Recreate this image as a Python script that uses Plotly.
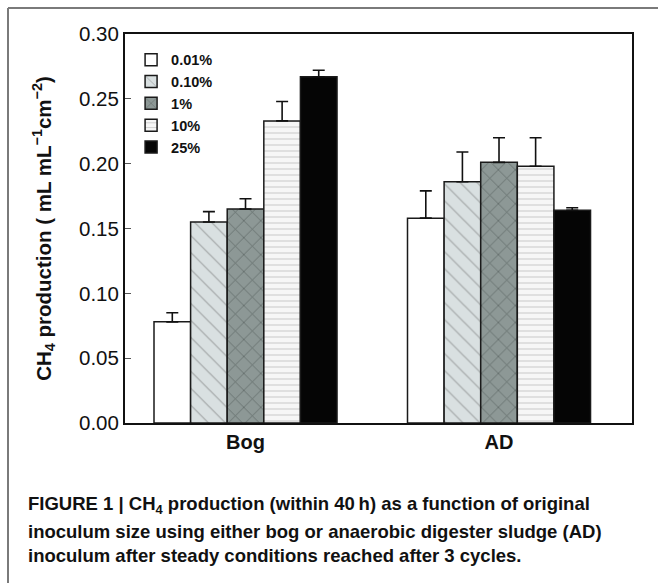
import plotly.graph_objects as go

categories = ["Bog", "AD"]
series_names = ["0.01%", "0.10%", "1%", "10%", "25%"]
values = {
    "0.01%": [0.078, 0.158],
    "0.10%": [0.155, 0.186],
    "1%": [0.165, 0.201],
    "10%": [0.233, 0.198],
    "25%": [0.267, 0.164],
}
errors = {
    "0.01%": [0.007, 0.021],
    "0.10%": [0.008, 0.023],
    "1%": [0.008, 0.019],
    "10%": [0.015, 0.022],
    "25%": [0.005, 0.002],
}
y_ticks = [0.00, 0.05, 0.10, 0.15, 0.20, 0.25, 0.30]
caption_lines = [
    "FIGURE 1 | CH<sub>4</sub> production (within 40\u2009h) as a function of original",
    "inoculum size using either bog or anaerobic digester sludge (AD)",
    "inoculum after steady conditions reached after 3 cycles.",
]

styles = {
    "0.01%": dict(color="#ffffff", pattern=dict(shape="")),
    "0.10%": dict(color="#d9e0e1", pattern=dict(shape="\\", fgcolor="#6a6a6a", size=12, solidity=0.1, fillmode="overlay")),
    "1%": dict(color="#8d9896", pattern=dict(shape="x", fgcolor="#2f3836", size=12, solidity=0.12, fillmode="overlay")),
    "10%": dict(color="#f6f6f6", pattern=dict(shape="-", fgcolor="#a8a8a8", size=6, solidity=0.2, fillmode="overlay")),
    "25%": dict(color="#050505", pattern=dict(shape="")),
}

FONT = "Liberation Sans, Arial, sans-serif"

fig = go.Figure()
for name in series_names:
    st = styles[name]
    fig.add_trace(go.Bar(
        name=name,
        x=[0, 1],
        y=values[name],
        marker=dict(color=st["color"], pattern=st["pattern"],
                    line=dict(color="#1a1a1a", width=1.5)),
        error_y=dict(type="data", array=errors[name], arrayminus=[0, 0],
                     symmetric=False, color="#111111", thickness=1.6, width=6),
    ))

fig.update_layout(
    width=658, height=583,
    margin=dict(l=125, r=26, t=34, b=160),
    paper_bgcolor="white", plot_bgcolor="white",
    barmode="group", bargap=0.278, bargroupgap=0,
    font=dict(family=FONT, color="#111111"),
    showlegend=True,
    legend=dict(x=0.012, y=0.975, xanchor="left", yanchor="top",
                bgcolor="rgba(0,0,0,0)", tracegroupgap=0,
                font=dict(size=14.5, weight="bold", family=FONT)),
    xaxis=dict(
        tickmode="array", tickvals=[0, 1], ticktext=categories,
        range=[-0.4754, 1.5246],
        showline=True, linecolor="#111111", linewidth=2, mirror=True,
        ticks="", showgrid=False, zeroline=False,
        tickfont=dict(size=20, weight="bold", family=FONT),
    ),
    yaxis=dict(
        range=[0, 0.30], tickmode="array", tickvals=y_ticks,
        ticktext=[f"{v:.2f}" for v in y_ticks],
        showline=True, linecolor="#111111", linewidth=2, mirror=True,
        ticks="inside", ticklen=6, tickcolor="#555555", tickwidth=1,
        showgrid=False, zeroline=False,
        tickfont=dict(size=20.5, family=FONT),
        title=dict(text="CH<sub>4</sub> production ( mL mL<sup>\u22121</sup>cm<sup>\u22122</sup>)",
                   font=dict(size=20.5, weight="bold", family=FONT), standoff=22),
    ),
)

# outer figure frame
fig.add_shape(type="line", xref="paper", yref="paper",
              x0=(8 - 125) / 507, x1=(8 - 125) / 507,
              y0=1 + (34 - 8) / 389, y1=(423 - 600) / 389,
              line=dict(color="#7a7a7a", width=2))
fig.add_shape(type="line", xref="paper", yref="paper",
              x0=(8 - 125) / 507, x1=(670 - 125) / 507,
              y0=1 + (34 - 8) / 389, y1=1 + (34 - 8) / 389,
              line=dict(color="#7a7a7a", width=2))

baselines = [519, 544, 568]
for line, yb in zip(caption_lines, baselines):
    fig.add_annotation(text=line, xref="paper", yref="paper",
                       x=(26 - 125) / 507, y=(423 - yb) / 389,
                       xanchor="left", yanchor="bottom", showarrow=False,
                       font=dict(size=18.5, weight="bold", family=FONT, color="#111111"))

fig.write_html("out.html")
